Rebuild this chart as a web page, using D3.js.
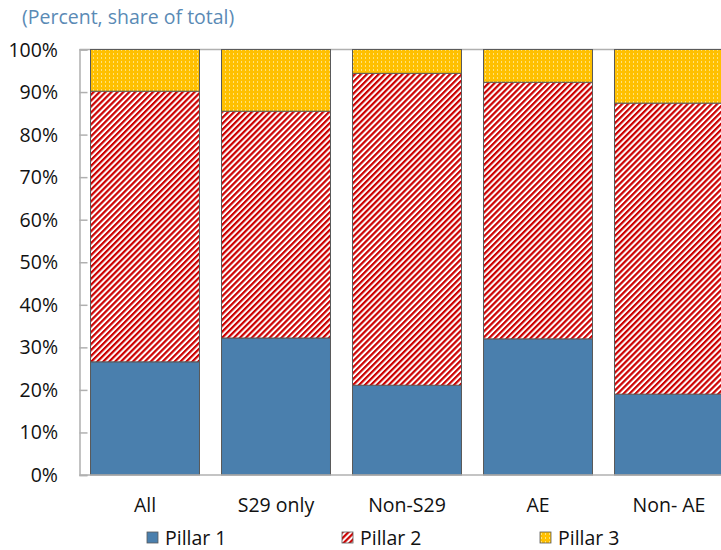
<!DOCTYPE html>
<html>
<head>
<meta charset="utf-8">
<script src="https://cdn.jsdelivr.net/npm/d3@7"></script>
<style>
  html, body { margin: 0; padding: 0; background: #fff; }
  svg { display: block; font-family: "Open Sans", "Noto Sans", sans-serif; }
</style>
</head>
<body>
<svg id="chart" width="721" height="550"></svg>
<script>
const categories = ["All", "S29 only", "Non-S29", "AE", "Non- AE"];
const pillar1 = [26.6, 32.2, 21.1, 32.0, 19.0];
const pillar2 = [63.6, 53.3, 73.3, 60.3, 68.4];
const pillar3 = [9.8, 14.5, 5.6, 7.7, 12.6];
const seriesNames = ["Pillar 1", "Pillar 2", "Pillar 3"];
const yTicks = [0, 10, 20, 30, 40, 50, 60, 70, 80, 90, 100];
const titleText = "(Percent, share of total)";

const svg = d3.select("#chart");
const defs = svg.append("defs");

// hatch pattern for Pillar 2
const hatch = defs.append("pattern")
  .attr("id", "hatch").attr("patternUnits", "userSpaceOnUse")
  .attr("width", 4.2).attr("height", 4.2)
  .attr("patternTransform", "rotate(45)");
hatch.append("rect").attr("width", 4.2).attr("height", 4.2).attr("fill", "#ffffff");
hatch.append("rect").attr("width", 2.2).attr("height", 4.2).attr("fill", "#CC0000");

// dotted pattern for Pillar 3
const dots = defs.append("pattern")
  .attr("id", "dots").attr("patternUnits", "userSpaceOnUse")
  .attr("width", 4).attr("height", 4);
dots.append("rect").attr("width", 4).attr("height", 4).attr("fill", "#FFC000");
dots.append("rect").attr("x", 1).attr("y", 1).attr("width", 1).attr("height", 2).attr("fill", "#FFE27A");

const fills = ["#4A7FAD", "url(#hatch)", "url(#dots)"];
const legendFills = ["#4A7FAD", "url(#hatch)", "url(#dots)"];

const rows = categories.map((c, i) => ({
  cat: c, "Pillar 1": pillar1[i], "Pillar 2": pillar2[i], "Pillar 3": pillar3[i]
}));
const stacked = d3.stack().keys(seriesNames)(rows);

const x = d3.scaleBand().domain(categories)
  .range([79.5, 734.5]).paddingInner(0.168).paddingOuter(0.084);
const y = d3.scaleLinear().domain([0, 100]).range([475, 49.5]);

// top line at 100%
svg.append("line")
  .attr("x1", 79.5).attr("x2", 721)
  .attr("y1", y(100)).attr("y2", y(100))
  .attr("stroke", "#B0B0B0").attr("stroke-width", 1.5);

// bars
const g = svg.append("g");
stacked.forEach((s, si) => {
  g.selectAll(null).data(s).enter().append("rect")
    .attr("x", d => x(d.data.cat))
    .attr("width", x.bandwidth())
    .attr("y", d => y(d[1]))
    .attr("height", d => y(d[0]) - y(d[1]))
    .attr("fill", fills[si])
    .attr("stroke", "#5a5a5a")
    .attr("stroke-width", 1);
});

// y axis
const yAxis = d3.axisRight(y).tickValues(yTicks).tickSize(8).tickFormat("");
const ya = svg.append("g").attr("transform", "translate(79.5,0)").call(yAxis);
ya.select(".domain").attr("stroke", "#B0B0B0").attr("stroke-width", 1.5);
ya.selectAll(".tick line").attr("stroke", "#B0B0B0").attr("stroke-width", 1.5);

svg.append("g").selectAll("text").data(yTicks).enter().append("text")
  .attr("x", 58).attr("y", d => y(d))
  .attr("dy", "0.36em")
  .attr("text-anchor", "end")
  .attr("font-size", 19.5)
  .attr("fill", "#111")
  .text(d => d + "%");

// x axis
svg.append("line")
  .attr("x1", 79.5).attr("x2", 721)
  .attr("y1", 475).attr("y2", 475)
  .attr("stroke", "#B0B0B0").attr("stroke-width", 1.5);

svg.append("g").selectAll("text").data(categories).enter().append("text")
  .attr("x", d => x(d) + x.bandwidth() / 2)
  .attr("y", 512)
  .attr("text-anchor", "middle")
  .attr("font-size", 19.5)
  .attr("fill", "#111")
  .text(d => d);

// title
svg.append("text")
  .attr("x", 22).attr("y", 24)
  .attr("font-size", 19.5)
  .attr("fill", "#5A8AB5")
  .text(titleText);

// legend
const legendX = [147, 342, 540];
const lg = svg.append("g");
seriesNames.forEach((n, i) => {
  lg.append("rect")
    .attr("x", legendX[i]).attr("y", 532)
    .attr("width", 11).attr("height", 11)
    .attr("fill", legendFills[i])
    .attr("stroke", "#5a5a5a").attr("stroke-width", 0.8);
  lg.append("text")
    .attr("x", legendX[i] + 18).attr("y", 545)
    .attr("font-size", 19.5)
    .attr("fill", "#111")
    .text(n);
});
</script>
</body>
</html>
